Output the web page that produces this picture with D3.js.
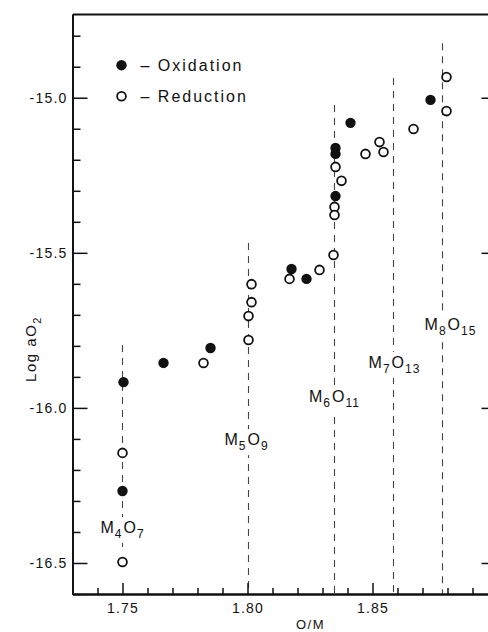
<!DOCTYPE html>
<html><head><meta charset="utf-8">
<script src="https://cdn.jsdelivr.net/npm/d3@7"></script>
<style>
html,body{margin:0;padding:0;background:#fff;}
svg{display:block;}
text{font-family:"Liberation Sans","DejaVu Sans",sans-serif;fill:#111;}
</style></head>
<body>
<svg id="chart" width="488" height="632"></svg>
<script>
// ---- data ----
const oxidationOM   = [1.7504, 1.7664, 1.7852, 1.8176, 1.8236, 1.8352, 1.8352, 1.8352, 1.8412, 1.8732, 1.7500];
const oxidationLogA = [-15.917, -15.855, -15.807, -15.552, -15.584, -15.162, -15.181, -15.317, -15.081, -15.007, -16.268];

const reductionOM   = [1.7500, 1.7500, 1.7824, 1.8016, 1.8016, 1.8004, 1.8004, 1.8168, 1.8288, 1.8352, 1.8376, 1.8348, 1.8348, 1.8344, 1.8472, 1.8528, 1.8544, 1.8664, 1.8796, 1.8796];
const reductionLogA = [-16.145, -16.497, -15.855, -15.601, -15.659, -15.704, -15.781, -15.584, -15.555, -15.223, -15.268, -15.352, -15.378, -15.507, -15.181, -15.143, -15.175, -15.101, -14.933, -15.043];

// phase boundary lines (O/M, top and bottom in log a units) and labels
const phaseOM     = [1.7500, 1.8004, 1.8348, 1.8584, 1.8780];
const phaseTop    = [-15.797, -15.468, -15.023, -14.936, -14.824];
const phaseBottom = [-16.450, -16.600, -16.600, -16.600, -16.600];
const phaseMetal  = ["4", "5", "6", "7", "8"];
const phaseOxygen = ["7", "9", "11", "13", "15"];
const phaseLabelOM   = [1.7500, 1.7996, 1.8348, 1.8588, 1.8812];
const phaseLabelLogA = [-16.403, -16.120, -15.981, -15.871, -15.749];

const xMajorTicks = [1.75, 1.80, 1.85];
const xTickLabels = ["1.75", "1.80", "1.85"];
const xMinorTicks = [1.74, 1.76, 1.77, 1.78, 1.79, 1.81, 1.82, 1.83, 1.84, 1.86, 1.87, 1.88, 1.89];
const yMajorTicks = [-15.0, -15.5, -16.0, -16.5];
const yTickLabels = ["-15.0", "-15.5", "-16.0", "-16.5"];
const yMinorTicks = [-14.8, -14.9, -15.1, -15.2, -15.3, -15.4, -15.6, -15.7, -15.8, -15.9, -16.1, -16.2, -16.3, -16.4, -16.6];

// ---- drawing ----
const svg = d3.select("#chart");
const x = d3.scaleLinear().domain([1.73, 1.90]).range([72.5, 497.5]);
const y = d3.scaleLinear().domain([-16.6, -14.73]).range([594, 14]);

const ink = "#111";
const axisW = 1.8;

// phase lines (drawn first so labels can mask them)
const phases = phaseOM.map((om, i) => ({om, t: phaseTop[i], b: phaseBottom[i], m: phaseMetal[i], o: phaseOxygen[i], lx: phaseLabelOM[i], ly: phaseLabelLogA[i]}));
svg.append("g").selectAll("line").data(phases).join("line")
  .attr("x1", d => x(d.om)).attr("x2", d => x(d.om))
  .attr("y1", d => y(d.t)).attr("y2", d => y(d.b))
  .attr("stroke", "#444").attr("stroke-width", 1.1)
  .attr("stroke-dasharray", "7,6");

// phase labels with white background
const lab = svg.append("g").selectAll("g").data(phases).join("g")
  .attr("transform", d => `translate(${x(d.lx)},${y(d.ly)})`);
lab.each(function(d){
  const g = d3.select(this);
  const t = g.append("text").attr("text-anchor", "middle").attr("font-size", 16).attr("letter-spacing", 1);
  t.append("tspan").text("M");
  t.append("tspan").attr("font-size", 12).attr("dy", 5).text(d.m);
  t.append("tspan").attr("dy", -5).attr("dx", 1).text("O");
  t.append("tspan").attr("font-size", 12).attr("dy", 5).text(d.o);
  const bb = this.getBBox();
  g.insert("rect", "text").attr("x", bb.x - 2).attr("y", bb.y - 2)
    .attr("width", bb.width + 4).attr("height", bb.height + 4).attr("fill", "#fff");
});

// axes
const gLeft = svg.append("g").attr("transform", `translate(${x(1.73)},0)`);
gLeft.call(d3.axisLeft(y).tickValues(yMajorTicks).tickSize(-15).tickSizeOuter(0).tickPadding(5)
  .tickFormat((d, i) => yTickLabels[i]));
gLeft.append("g").call(d3.axisLeft(y).tickValues(yMinorTicks).tickSize(-8).tickSizeOuter(0).tickFormat(""));

const gRight = svg.append("g").attr("transform", `translate(${x(1.90)},0)`);
gRight.call(d3.axisRight(y).tickValues(yMajorTicks).tickSize(-16).tickSizeOuter(0).tickFormat(""));
gRight.append("g").call(d3.axisRight(y).tickValues(yMinorTicks).tickSize(-8).tickSizeOuter(0).tickFormat(""));

const gBottom = svg.append("g").attr("transform", `translate(0,${y(-16.6)})`);
gBottom.call(d3.axisBottom(x).tickValues(xMajorTicks).tickSize(-11).tickSizeOuter(0).tickPadding(9)
  .tickFormat((d, i) => xTickLabels[i]));
gBottom.append("g").call(d3.axisBottom(x).tickValues(xMinorTicks).tickSize(-6).tickSizeOuter(0).tickFormat(""));

const gTop = svg.append("g").attr("transform", `translate(0,${y(-14.73)})`);
gTop.call(d3.axisTop(x).tickValues([]).tickSizeOuter(0));

svg.selectAll(".domain").attr("stroke", ink).attr("stroke-width", axisW);
svg.selectAll(".tick line").attr("stroke", ink).attr("stroke-width", 1.5);
svg.selectAll(".tick text").attr("font-size", 14).attr("letter-spacing", 1.2)
  .attr("font-family", "'Liberation Sans','DejaVu Sans',sans-serif").attr("fill", ink);

// points
const ox = oxidationOM.map((v, i) => ({om: v, a: oxidationLogA[i]}));
const re = reductionOM.map((v, i) => ({om: v, a: reductionLogA[i]}));
svg.append("g").selectAll("circle").data(re).join("circle")
  .attr("cx", d => x(d.om)).attr("cy", d => y(d.a)).attr("r", 4.4)
  .attr("fill", "#fff").attr("stroke", ink).attr("stroke-width", 1.8);
svg.append("g").selectAll("circle").data(ox).join("circle")
  .attr("cx", d => x(d.om)).attr("cy", d => y(d.a)).attr("r", 5.2)
  .attr("fill", ink);

// legend
const leg = svg.append("g");
leg.append("circle").attr("cx", x(1.7496)).attr("cy", y(-14.895)).attr("r", 5.2).attr("fill", ink);
leg.append("text").attr("x", x(1.7572)).attr("y", y(-14.895)).attr("dy", "0.35em")
  .attr("font-size", 16).attr("letter-spacing", 2).text("– Oxidation");
leg.append("circle").attr("cx", x(1.7496)).attr("cy", y(-14.995)).attr("r", 4.4)
  .attr("fill", "#fff").attr("stroke", ink).attr("stroke-width", 1.8);
leg.append("text").attr("x", x(1.7572)).attr("y", y(-14.995)).attr("dy", "0.35em")
  .attr("font-size", 16).attr("letter-spacing", 2).text("– Reduction");

// axis titles
const yt = svg.append("text").attr("transform", `translate(36,${y(-15.81)}) rotate(-90)`)
  .attr("text-anchor", "middle").attr("font-size", 15).attr("letter-spacing", 1.5);
yt.append("tspan").text("Log a");
yt.append("tspan").text("O");
yt.append("tspan").attr("font-size", 11).attr("dy", 5).text("2");

svg.append("text").attr("x", x(1.8252)).attr("y", 629).attr("text-anchor", "middle")
  .attr("font-size", 13).attr("letter-spacing", 1.5).text("O/M");
</script>
</body></html>
